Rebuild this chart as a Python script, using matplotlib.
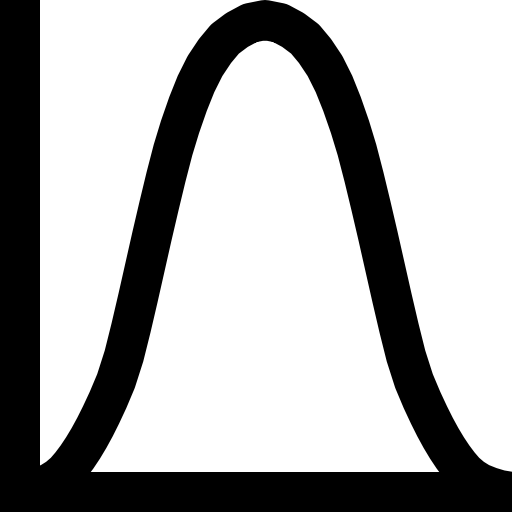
import matplotlib
matplotlib.use("Agg")
import matplotlib.pyplot as plt

# curve centre line (x position, height above baseline)
xs = [10, 20, 30, 38, 45, 51, 57, 63, 69, 75, 81, 88, 96, 104, 111, 118, 125,
      132, 139, 146, 153, 160, 168, 176, 185, 195, 205, 217, 230, 245,
      260, 273, 285, 295, 305, 314, 322, 330, 337, 344, 351, 358, 365, 372,
      379, 386, 394, 402, 409, 415, 421, 427, 433, 439, 445, 452, 460, 470,
      480, 492]
heights = [2, 5, 9, 14, 20, 27, 35, 44, 54, 65, 77, 92, 111, 136, 164, 194, 225,
           256, 286, 315, 342, 365, 388, 408, 426, 441, 453, 462, 469, 472,
           469, 462, 453, 441, 426, 408, 388, 365, 342, 315, 286, 256, 225, 194,
           164, 136, 111, 92, 77, 65, 54, 44, 35, 27, 20, 14, 9, 5,
           2, 0]

x_range = (0, 492)
y_range = (0, 492)

DPI = 100
SIZE = 512
STROKE = 40 * 72 / DPI  # 40 px stroke, in points

fig = plt.figure(figsize=(SIZE / DPI, SIZE / DPI), dpi=DPI)
ax = fig.add_axes([20 / SIZE, 20 / SIZE, 492 / SIZE, 492 / SIZE])

ax.plot(xs, heights, color="black", linewidth=STROKE,
        solid_joinstyle="round", solid_capstyle="butt")

ax.set_xlim(*x_range)
ax.set_ylim(*y_range)
ax.set_xticks([])
ax.set_yticks([])
for side in ("top", "right"):
    ax.spines[side].set_visible(False)
for side in ("left", "bottom"):
    ax.spines[side].set_linewidth(STROKE)
    ax.spines[side].set_color("black")
    ax.spines[side].set_capstyle("projecting")

fig.savefig("out.png", dpi=DPI, facecolor="white")
